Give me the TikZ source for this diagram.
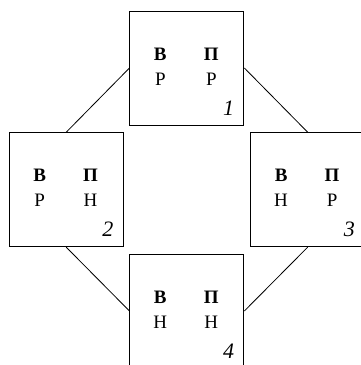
\documentclass[tikz,border=0pt]{standalone}
\usepackage{fontspec}
\setmainfont{Liberation Serif}
\begin{document}
\begin{tikzpicture}[x=1pt,y=-1pt,
  cell/.style={draw, line width=0.9pt, minimum width=114pt, minimum height=114pt, inner sep=0pt},
  head/.style={inner sep=0pt, anchor=base, font=\fontsize{19}{22}\selectfont\bfseries},
  val/.style={inner sep=0pt, anchor=base, font=\fontsize{19}{22}\selectfont},
  num/.style={inner sep=0pt, anchor=base east, font=\fontsize{22}{26}\selectfont\itshape},
  link/.style={line width=0.8pt}]
\useasboundingbox (0,0) rectangle (361,365);
\clip (0,0) rectangle (361,365);

% the four state boxes, with their headings, values and numbers
\foreach \b/\cx/\cy/\l/\r/\n in {b1/186.9/68/Р/Р/1, b2/66.2/189.7/Р/Н/2,
                                  b3/307.7/189.7/Н/Р/3, b4/186.9/311/Н/Н/4}{
  \node[cell] (\b) at (\cx,\cy) {};
  \node[head] (\b hv) at ({\cx-26.6},{\cy-8}) {В};
  \node[head] (\b hp) at ({\cx+24.4},{\cy-8}) {П};
  \node[val]  (\b vv) at ({\cx-26.6},{\cy+17}) {\l};
  \node[val]  (\b vp) at ({\cx+24.4},{\cy+17}) {\r};
  \node[num]  (\b n)  at ({\cx+47.4},{\cy+47}) {\n};
}

% connectors between neighbouring boxes
\draw[link] (b1.west) -- (b2.north);
\draw[link] (b1.east) -- (b3.north);
\draw[link] (b2.south) -- (b4.west);
\draw[link] (b3.south) -- (b4.east);
\end{tikzpicture}
\end{document}
